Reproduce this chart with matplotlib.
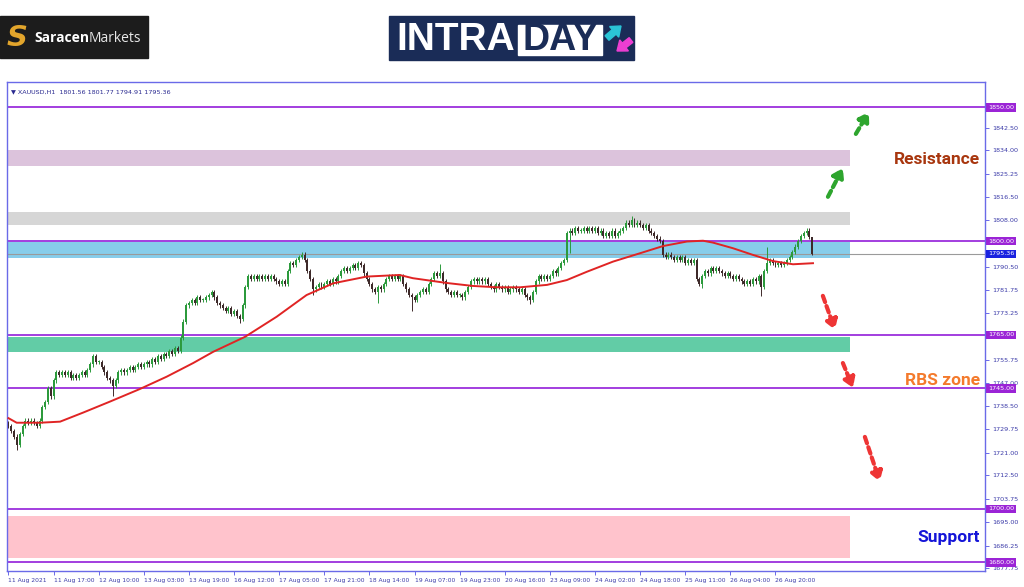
import numpy as np
import matplotlib.pyplot as plt
from matplotlib.patches import Rectangle, FancyArrow
from matplotlib.transforms import blended_transform_factory

# hourly closes XAUUSD, 11 Aug 2021 -> 27 Aug 2021 (16 bars per row)
closes = [
    1731, 1729, 1727, 1724, 1728, 1731, 1733, 1732, 1733, 1732, 1731, 1733, 1738, 1740, 1745, 1742,
    1748, 1751, 1750, 1751, 1750, 1751, 1749, 1750, 1749, 1750, 1751, 1750, 1752, 1754, 1757, 1755,
    1755, 1753, 1751, 1749, 1748, 1746, 1748, 1751, 1752, 1751, 1752, 1753, 1752, 1753, 1754, 1753,
    1754, 1755, 1754, 1756, 1755, 1757, 1756, 1758, 1757, 1759, 1758, 1760, 1759, 1764, 1770, 1776,
    1777, 1778, 1777, 1779, 1778, 1778, 1779, 1780, 1781, 1779, 1777, 1776, 1775, 1774, 1775, 1773,
    1774, 1772, 1771, 1776, 1783, 1787, 1786, 1787, 1786, 1787, 1786, 1787, 1786, 1787, 1786, 1785,
    1784, 1785, 1784, 1789, 1792, 1791, 1793, 1794, 1795, 1793, 1789, 1786, 1782, 1783, 1784, 1783,
    1784, 1785, 1784, 1786, 1785, 1787, 1789, 1790, 1789, 1790, 1791, 1790, 1792, 1791, 1788, 1786,
    1784, 1782, 1781, 1783, 1782, 1784, 1786, 1787, 1786, 1787, 1786, 1787, 1784, 1782, 1780, 1779,
    1778, 1780, 1781, 1782, 1781, 1784, 1786, 1788, 1787, 1788, 1785, 1782, 1781, 1780, 1781, 1780,
    1780, 1779, 1781, 1783, 1785, 1786, 1785, 1786, 1785, 1786, 1784, 1783, 1782, 1784, 1783, 1782,
    1783, 1781, 1782, 1783, 1782, 1781, 1782, 1780, 1779, 1778, 1781, 1785, 1787, 1786, 1787, 1786,
    1787, 1789, 1788, 1790, 1792, 1793, 1803, 1804, 1803, 1805, 1804, 1804, 1805, 1804, 1805, 1804,
    1805, 1803, 1804, 1802, 1803, 1802, 1804, 1802, 1803, 1804, 1805, 1807, 1806, 1808, 1806, 1807,
    1806, 1805, 1806, 1804, 1803, 1802, 1801, 1800, 1795, 1794, 1795, 1794, 1793, 1794, 1793, 1794,
    1792, 1793, 1792, 1793, 1786, 1784, 1787, 1789, 1788, 1790, 1789, 1790, 1789, 1788, 1787, 1788,
    1787, 1786, 1787, 1786, 1785, 1784, 1785, 1784, 1786, 1785, 1787, 1783, 1789, 1792, 1793, 1792,
    1791, 1792, 1791, 1792, 1793, 1794, 1796, 1798, 1800, 1802, 1803, 1804, 1801.56, 1795.36,
]
first_open = 1732.0
spike_low = {3: 1722, 37: 1742, 82: 1769.5, 108: 1780, 131: 1777, 143: 1774, 185: 1776.5,
             199: 1795.5, 246: 1782.5, 267: 1779.5, 285: 1794.91}
spike_high = {153: 1791.5, 221: 1809.5, 269: 1798, 283: 1805, 285: 1801.77}

# red moving average, sampled along the line
ma_bars = [0, 2.9, 11.2, 18.3, 26.5, 36, 46.6, 56.1, 65.5, 72.6, 83.9, 95.1, 105.7, 115.2, 127,
           138.7, 143.4, 155.5, 164.7, 173.2, 181.4, 191, 198, 205.1, 214.4, 223.9, 232.1, 240.6,
           246.3, 249.8, 256.9, 264, 271.1, 278.2, 285.3]
ma_vals = [1733.9, 1732.2, 1732.2, 1732.6, 1736.0, 1740.1, 1744.8, 1749.4, 1754.5, 1758.7, 1764.3,
           1771.8, 1779.9, 1784.3, 1786.8, 1787.4, 1786.2, 1784.4, 1783.3, 1782.8, 1782.8, 1783.7,
           1785.5, 1788.6, 1792.4, 1795.5, 1798.2, 1799.9, 1800.2, 1799.5, 1797.4, 1794.9, 1792.6,
           1791.4, 1791.8]

xtick_bars = list(range(0, 273, 16))
xtick_labels = ['11 Aug 2021', '11 Aug 17:00', '12 Aug 10:00', '13 Aug 03:00', '13 Aug 19:00',
                '16 Aug 12:00', '17 Aug 05:00', '17 Aug 21:00', '18 Aug 14:00', '19 Aug 07:00',
                '19 Aug 23:00', '20 Aug 16:00', '23 Aug 09:00', '24 Aug 02:00', '24 Aug 18:00',
                '25 Aug 11:00', '26 Aug 04:00', '26 Aug 20:00']
yticks = [1842.50, 1834.00, 1825.25, 1816.50, 1808.00, 1790.50, 1781.75, 1773.25, 1755.75,
          1747.00, 1738.50, 1729.75, 1721.00, 1712.50, 1703.75, 1695.00, 1686.25, 1677.75]
levels = [1850, 1800, 1765, 1745, 1700, 1680]
last_price = 1795.36

zone_lo = [1828.1, 1806.1, 1793.6, 1758.5, 1681.6]
zone_hi = [1834.1, 1811.1, 1799.8, 1764.3, 1697.3]
zone_end = 298.6
zone_colors = ['#dcc3dc', '#d6d6d6', '#87cdea', '#62cca6', '#ffc3cc']

labels = ['Resistance', 'RBS zone', 'Support']
label_y = [1830.4, 1748.0, 1689.5]
label_colors = ['#a8360e', '#f47a2c', '#1414d8']

green_from = [(290.6, 1816.6), (300.5, 1840.1)]
green_to = [(295.9, 1827.4), (305.1, 1848.3)]
red_from = [(288.8, 1779.6), (295.9, 1754.5), (303.7, 1726.9)]
red_to = [(293.1, 1766.9), (299.5, 1745.2), (309.0, 1710.2)]

W, H = 1024, 587
fig = plt.figure(figsize=(W / 100, H / 100), dpi=100)
fig.patch.set_facecolor('white')

# header (pixel coordinates)
hdr = fig.add_axes([0, 0, 1, 1], zorder=0)
hdr.set_xlim(0, W)
hdr.set_ylim(H, 0)
hdr.axis('off')

hdr.add_patch(Rectangle((0, 16), 148, 42, color='#1c1c1c'))
hdr.text(17, 38, 'S', fontsize=21, fontweight='bold', style='italic', color='#e2a52c',
         ha='center', va='center', family='DejaVu Sans')
t1 = hdr.text(34, 38, 'Saracen', fontsize=10, fontweight='bold', color='white',
              ha='left', va='center', family='Open Sans')
hdr.annotate('Markets', xy=(1, 0.5), xycoords=t1, fontsize=10, color='#e8e8e8',
             ha='left', va='center', family='Open Sans')

hdr.add_patch(Rectangle((389, 16), 245, 44, color='#1a2c57'))
hdr.add_patch(Rectangle((518, 25), 84, 30, color='white'))
hdr.text(396, 40, 'INTRA', fontsize=28, fontweight='bold', color='white',
         ha='left', va='center', family='Liberation Sans')
hdr.text(560, 40, 'DAY', fontsize=27, fontweight='bold', color='#1a2c57',
         ha='center', va='center', family='Liberation Sans')
hdr.add_patch(FancyArrow(607, 38, 14, -12, width=6, head_width=14, head_length=9,
                         length_includes_head=True, color='#2bc4d6'))
hdr.add_patch(FancyArrow(631, 40, -14, 11, width=6, head_width=14, head_length=9,
                         length_includes_head=True, color='#ec3ed2'))

# chart
ax = fig.add_axes([7 / W, 1 - 571 / H, 978 / W, 489 / H], zorder=1)
ax.set_xlim(-0.53, 346.3)
ax.set_ylim(1676.8, 1859.5)

for lo, hi, c in zip(zone_lo, zone_hi, zone_colors):
    ax.add_patch(Rectangle((-0.53, lo), zone_end + 0.53, hi - lo, color=c, lw=0, zorder=1))

for lv in levels:
    ax.axhline(lv, color='#9b2fdc', lw=1.3, zorder=2)
ax.axhline(last_price, color='#9a9a9a', lw=0.8, zorder=2)

bars = np.arange(len(closes))
c_arr = np.array(closes, dtype=float)
o_arr = np.concatenate([[first_open], c_arr[:-1]])
wick = 0.8
hi_arr = np.maximum(o_arr, c_arr) + wick
lo_arr = np.minimum(o_arr, c_arr) - wick
for i, v in spike_low.items():
    lo_arr[i] = v
for i, v in spike_high.items():
    hi_arr[i] = v
up = c_arr >= o_arr
cols = np.where(up, '#2c9a3c', '#3e2a2a')
ax.vlines(bars, lo_arr, hi_arr, colors=cols, lw=0.7, zorder=3)
body = np.where(np.abs(c_arr - o_arr) < 0.3, 0.3, c_arr - o_arr)
ax.bar(bars, body, bottom=o_arr, width=0.7, color=cols, lw=0, zorder=4)

ax.plot(ma_bars, ma_vals, color='#e02424', lw=1.4, zorder=5)

for (x0, y0), (x1, y1) in zip(green_from + red_from, green_to + red_to):
    col = '#2ea52e' if (x0, y0) in green_from else '#ee3535'
    ax.annotate('', xy=(x1, y1), xytext=(x0, y0),
                arrowprops=dict(arrowstyle='-|>,head_length=0.55,head_width=0.35', color=col,
                                lw=3, linestyle=(0, (1.6, 1.0)), shrinkA=0, shrinkB=0),
                annotation_clip=False, zorder=6)

bt = blended_transform_factory(ax.transAxes, ax.transData)
for txt, y, c in zip(labels, label_y, label_colors):
    ax.text(0.9949, y, txt, transform=bt, ha='right', va='center', fontsize=12.5,
            fontweight='bold', color=c, family='Roboto', zorder=7)

ax.text(0.004, 0.986, '\u25BC XAUUSD,H1  1801.56 1801.77 1794.91 1795.36', transform=ax.transAxes,
        fontsize=4.6, color='#2a2a90', va='top', ha='left')

frame = '#6a6ae8'
for s in ax.spines.values():
    s.set_color(frame)
    s.set_linewidth(1)

ax.yaxis.tick_right()
ax.set_yticks(yticks)
ax.set_yticklabels(['%.2f' % v for v in yticks])
ax.tick_params(axis='y', length=3, width=0.7, color=frame, labelsize=4.6, labelcolor='#3a3aa8', pad=2)
ax.set_xticks(xtick_bars)
ax.set_xticklabels(xtick_labels, ha='left')
ax.tick_params(axis='x', length=3, width=0.7, color=frame, labelsize=4.3, labelcolor='#3a3aa8', pad=2)

box_x = 1.0 + 3 / 978
for lv in levels:
    ax.text(box_x, lv, '%.2f' % lv, transform=bt, fontsize=4.6, color='white', ha='left',
            va='center', bbox=dict(boxstyle='square,pad=0.25', fc='#9b24d6', ec='none'),
            clip_on=False, zorder=8)
ax.text(box_x, last_price, '%.2f' % last_price, transform=bt, fontsize=4.6, color='white', ha='left',
        va='center', bbox=dict(boxstyle='square,pad=0.25', fc='#1a22e0', ec='none'),
        clip_on=False, zorder=8)

fig.savefig('out.png', dpi=100)
